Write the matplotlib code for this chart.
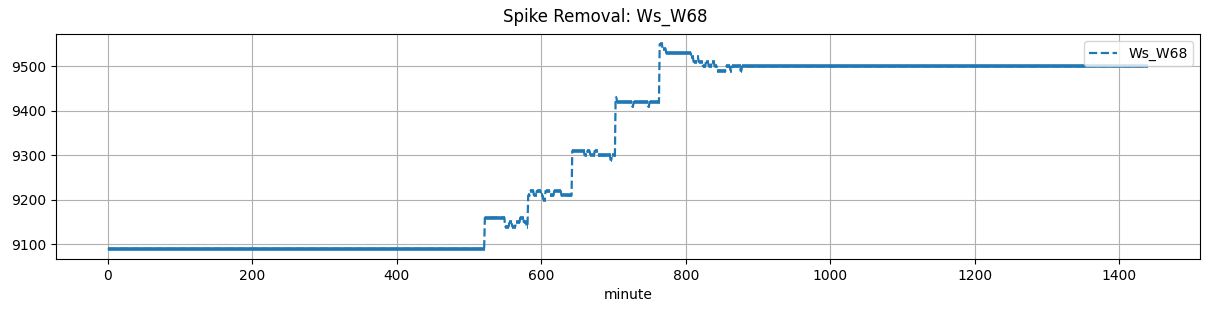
import numpy as np
import matplotlib
matplotlib.use("Agg")
import matplotlib.pyplot as plt

# step series: minute where a level starts, and the level
seg_start = [0, 522, 550, 556, 560, 565, 571, 576, 580, 582, 585, 590, 594,
             600, 603, 606, 612, 618, 628, 632, 643, 660, 664, 668, 674, 678,
             686, 696, 698, 703, 705, 726, 728, 748, 750, 764, 768, 773, 808,
             811, 815, 818, 824, 828, 832, 836, 840, 844, 856, 862, 864, 876,
             878]
seg_value = [9090, 9160, 9140, 9150, 9140, 9150, 9160, 9150, 9140, 9210, 9220,
             9210, 9220, 9210, 9200, 9220, 9210, 9220, 9210, 9210, 9310, 9300,
             9310, 9300, 9310, 9300, 9300, 9290, 9300, 9430, 9420, 9410, 9420,
             9410, 9420, 9550, 9540, 9530, 9520, 9510, 9520, 9510, 9500, 9510,
             9500, 9510, 9500, 9490, 9500, 9490, 9500, 9490, 9500]
n_minutes = 1441
series_name = "Ws_W68"

minute = np.arange(n_minutes)
idx = np.searchsorted(seg_start, minute, side="right") - 1
values = np.array(seg_value)[idx]
seg_end = seg_start[1:] + [n_minutes - 1]

fig = plt.figure(figsize=(12.11, 3.11), dpi=100)
ax = fig.add_axes([0.046, 0.167, 0.945, 0.724])
# dense flat runs look solid and heavier in the original
ax.hlines(seg_value, seg_start, seg_end, color="#1f77b4", lw=2.6)
ax.plot(minute, values, "--", color="#1f77b4", lw=1.6, label=series_name)
ax.set_xlabel("minute")
ax.grid(True)
ax.legend(loc="upper right")
fig.suptitle("Spike Removal: " + series_name, y=0.975, fontsize=12)

fig.savefig("out.png", dpi=100)
